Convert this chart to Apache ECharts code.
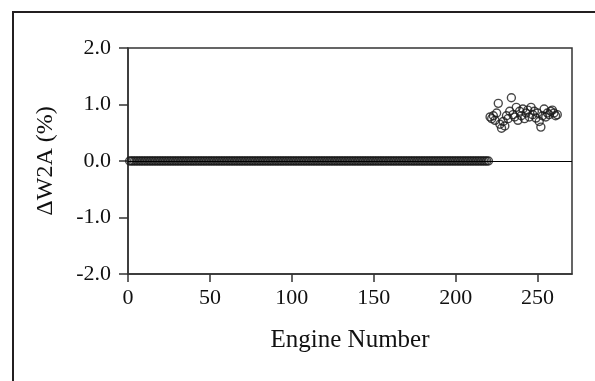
<!DOCTYPE html>
<html>
<head>
<meta charset="utf-8">
<script src="https://cdn.jsdelivr.net/npm/echarts@6/dist/echarts.min.js"></script>
<style>
html, body { margin: 0; padding: 0; background: #fff; }
#chart { width: 595px; height: 381px; }
</style>
</head>
<body>
<div id="chart"></div>
<script>
// engines 1..220 all sit on the zero line
var baseFirst = 1
var baseLast = 220
var baseValue = 0.0

// engines after the change
var shiftEngines = [221, 222, 223, 224, 225, 226, 227, 228, 229, 230, 231, 232, 233, 234, 235, 236, 237, 238, 239, 240, 241, 242, 243, 244, 245, 246, 247, 248, 249, 250, 251, 252, 253, 254, 255, 256, 257, 258, 259, 260, 261, 262]
var shiftValues = [0.78, 0.75, 0.80, 0.72, 0.85, 1.02, 0.65, 0.58, 0.70, 0.62, 0.80, 0.75, 0.88, 1.12, 0.82, 0.78, 0.95, 0.72, 0.88, 0.80, 0.92, 0.75, 0.85, 0.90, 0.78, 0.95, 0.82, 0.88, 0.76, 0.85, 0.70, 0.60, 0.80, 0.92, 0.78, 0.85, 0.82, 0.88, 0.90, 0.85, 0.80, 0.82]

var xTicks = [0, 50, 100, 150, 200, 250]
var yTicks = [-2.0, -1.0, 0.0, 1.0, 2.0]

var points = []
for (var e = baseFirst; e <= baseLast; e++) points.push([e, baseValue])
for (var i = 0; i < shiftEngines.length; i++) points.push([shiftEngines[i], shiftValues[i]])

var font = 'Liberation Serif'
var ink = '#333'

var mychart = echarts.init(document.getElementById('chart'))
mychart.setOption({
    animation: false,
    graphic: [{
        type: 'rect',
        shape: { x: 13, y: 12, width: 620, height: 400 },
        style: { fill: 'none', stroke: '#231f20', lineWidth: 2 }
    }],
    grid: {
        left: 128, right: 23, top: 48, bottom: 107,
        show: true, borderColor: ink, borderWidth: 1.5
    },
    xAxis: {
        type: 'value',
        min: 0, max: 271, interval: 50,
        name: 'Engine Number',
        nameLocation: 'middle',
        nameGap: 54,
        nameTextStyle: { fontFamily: font, fontSize: 25, color: '#111' },
        axisLine: { show: true, onZero: false, lineStyle: { color: ink, width: 1.5 } },
        axisTick: { show: true, length: 8, customValues: xTicks, lineStyle: { color: ink, width: 1.5 } },
        axisLabel: {
            fontFamily: font, fontSize: 22, color: '#111', margin: 13,
            customValues: xTicks
        },
        splitLine: { show: false }
    },
    yAxis: {
        type: 'value',
        min: -2, max: 2, interval: 1,
        name: 'ΔW2A (%)',
        nameLocation: 'middle',
        nameGap: 70,
        nameTextStyle: { fontFamily: font, fontSize: 24, color: '#111' },
        axisLine: { show: true, onZero: false, lineStyle: { color: ink, width: 1.5 } },
        axisTick: { show: true, length: 9, lineStyle: { color: ink, width: 1.5 } },
        axisLabel: {
            fontFamily: font, fontSize: 22, color: '#111', margin: 17,
            formatter: function (v) { return yTicks.indexOf(v) >= 0 ? v.toFixed(1) : '' }
        },
        splitLine: { show: false }
    },
    series: [{
        type: 'scatter',
        data: points,
        symbol: 'circle',
        symbolSize: 8,
        itemStyle: { color: 'rgba(255,255,255,0)', borderColor: '#1a1a1a', borderWidth: 1.4 },
        markLine: {
            silent: true,
            symbol: 'none',
            label: { show: false },
            lineStyle: { color: '#000', width: 1, type: 'solid' },
            data: [{ yAxis: 0 }]
        },
        z: 3
    }]
})
</script>
</body>
</html>
